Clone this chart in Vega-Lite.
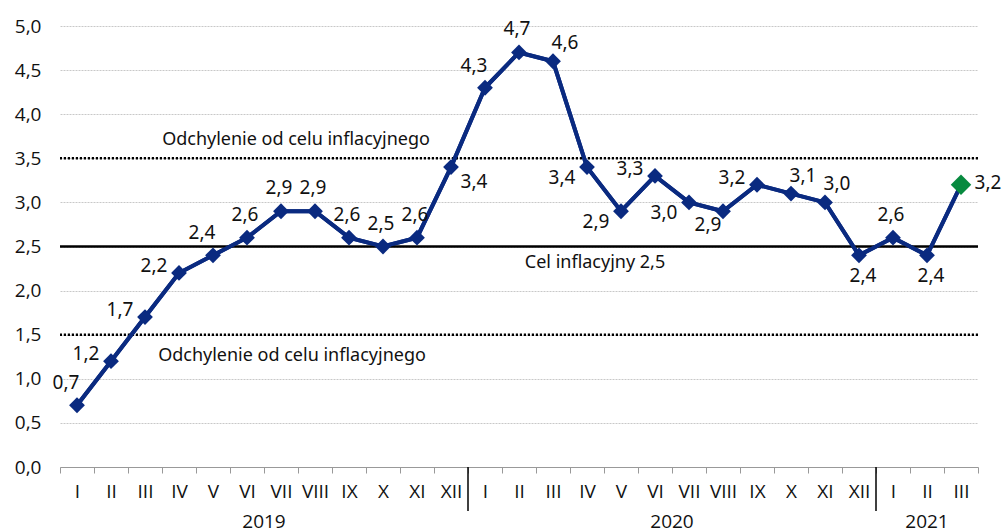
{
  "$schema": "https://vega.github.io/schema/vega-lite/v6.json",
  "width": 918,
  "height": 441,
  "autosize": {"type": "none"},
  "padding": {"left": 60, "top": 26, "right": 27, "bottom": 64},
  "background": "white",
  "config": {
    "view": {"stroke": null},
    "font": "Open Sans",
    "locale": {"number": {"decimal": ",", "thousands": "\u00a0", "grouping": [3], "currency": ["", ""]}}
  },
  "data": {
    "values": [
      {"cat": "2019-I", "month": "I", "year": "2019", "value": 0.7, "pos": "NW"},
      {"cat": "2019-II", "month": "II", "year": "2019", "value": 1.2, "pos": "W"},
      {"cat": "2019-III", "month": "III", "year": "2019", "value": 1.7, "pos": "W"},
      {"cat": "2019-IV", "month": "IV", "year": "2019", "value": 2.2, "pos": "W"},
      {"cat": "2019-V", "month": "V", "year": "2019", "value": 2.4, "pos": "NW"},
      {"cat": "2019-VI", "month": "VI", "year": "2019", "value": 2.6, "pos": "N"},
      {"cat": "2019-VII", "month": "VII", "year": "2019", "value": 2.9, "pos": "N"},
      {"cat": "2019-VIII", "month": "VIII", "year": "2019", "value": 2.9, "pos": "N"},
      {"cat": "2019-IX", "month": "IX", "year": "2019", "value": 2.6, "pos": "N"},
      {"cat": "2019-X", "month": "X", "year": "2019", "value": 2.5, "pos": "N"},
      {"cat": "2019-XI", "month": "XI", "year": "2019", "value": 2.6, "pos": "N"},
      {"cat": "2019-XII", "month": "XII", "year": "2019", "value": 3.4, "pos": "SE"},
      {"cat": "2020-I", "month": "I", "year": "2020", "value": 4.3, "pos": "NW"},
      {"cat": "2020-II", "month": "II", "year": "2020", "value": 4.7, "pos": "N"},
      {"cat": "2020-III", "month": "III", "year": "2020", "value": 4.6, "pos": "NE"},
      {"cat": "2020-IV", "month": "IV", "year": "2020", "value": 3.4, "pos": "SW"},
      {"cat": "2020-V", "month": "V", "year": "2020", "value": 2.9, "pos": "SW"},
      {"cat": "2020-VI", "month": "VI", "year": "2020", "value": 3.3, "pos": "W"},
      {"cat": "2020-VII", "month": "VII", "year": "2020", "value": 3.0, "pos": "SW"},
      {"cat": "2020-VIII", "month": "VIII", "year": "2020", "value": 2.9, "pos": "SSW"},
      {"cat": "2020-IX", "month": "IX", "year": "2020", "value": 3.2, "pos": "W"},
      {"cat": "2020-X", "month": "X", "year": "2020", "value": 3.1, "pos": "NE"},
      {"cat": "2020-XI", "month": "XI", "year": "2020", "value": 3.0, "pos": "NE"},
      {"cat": "2020-XII", "month": "XII", "year": "2020", "value": 2.4, "pos": "S"},
      {"cat": "2021-I", "month": "I", "year": "2021", "value": 2.6, "pos": "N"},
      {"cat": "2021-II", "month": "II", "year": "2021", "value": 2.4, "pos": "S"},
      {"cat": "2021-III", "month": "III", "year": "2021", "value": 3.2, "pos": "E"}
    ]
  },
  "layer": [
    {
      "mark": {"type": "line", "color": "#0a2a80", "strokeWidth": 4, "strokeJoin": "miter"},
      "encoding": {
        "x": {
          "field": "cat", "type": "ordinal", "sort": null,
          "scale": {"paddingInner": 0, "paddingOuter": 0},
          "axis": {
            "title": null, "labelExpr": "split(datum.value, '-')[1]",
            "tickBand": "extent", "domainColor": "#999999", "tickColor": "#999999",
            "tickSize": 6, "labelPadding": 9, "labelFontSize": 19, "labelColor": "#111111",
            "labelAngle": 0, "grid": false, "labelOverlap": false, "labelFlush": false,
            "labelFont": "Open Sans"
          }
        },
        "y": {
          "field": "value", "type": "quantitative",
          "scale": {"domain": [0, 5], "nice": false, "zero": true},
          "axis": {
            "title": null, "values": [0, 0.5, 1, 1.5, 2, 2.5, 3, 3.5, 4, 4.5, 5],
            "format": ".1f", "domain": false, "ticks": false, "labelPadding": 19,
            "labelFontSize": 19, "labelColor": "#111111", "labelFont": "Open Sans",
            "grid": true, "gridColor": "#c8c8c8", "gridDash": [2, 1], "gridWidth": 1
          }
        }
      }
    },
    {
      "data": {"values": [{"ref": 3.5}, {"ref": 1.5}]},
      "mark": {"type": "rule", "color": "#000000", "strokeWidth": 2.5, "strokeDash": [2.2, 1.8]},
      "encoding": {"y": {"field": "ref", "type": "quantitative"}}
    },
    {
      "data": {"values": [{"ref": 2.5}]},
      "mark": {"type": "rule", "color": "#000000", "strokeWidth": 2.5},
      "encoding": {"y": {"field": "ref", "type": "quantitative"}}
    },
    {
      "mark": {"type": "line", "color": "#0a2a80", "strokeWidth": 4, "strokeJoin": "miter"},
      "encoding": {
        "x": {"field": "cat", "type": "ordinal", "sort": null},
        "y": {"field": "value", "type": "quantitative"}
      }
    },
    {
      "mark": {"type": "point", "shape": "diamond", "filled": true, "opacity": 1},
      "encoding": {
        "x": {"field": "cat", "type": "ordinal", "sort": null},
        "y": {"field": "value", "type": "quantitative"},
        "color": {"condition": {"test": "datum.cat == '2021-III'", "value": "#078a3f"}, "value": "#0a2a80"},
        "size": {"condition": {"test": "datum.cat == '2021-III'", "value": 420}, "value": 250}
      }
    },
    {
      "transform": [{"filter": "datum.pos == 'N'"}],
      "mark": {"type": "text", "font": "Noto Sans", "fontSize": 19, "color": "#111111", "dx": -2, "dy": -23, "baseline": "middle"},
      "encoding": {"x": {"field": "cat", "type": "ordinal", "sort": null}, "y": {"field": "value", "type": "quantitative"}, "text": {"field": "value", "type": "quantitative", "format": ".1f"}}
    },
    {
      "transform": [{"filter": "datum.pos == 'NW'"}],
      "mark": {"type": "text", "font": "Noto Sans", "fontSize": 19, "color": "#111111", "dx": -11, "dy": -22, "baseline": "middle"},
      "encoding": {"x": {"field": "cat", "type": "ordinal", "sort": null}, "y": {"field": "value", "type": "quantitative"}, "text": {"field": "value", "type": "quantitative", "format": ".1f"}}
    },
    {
      "transform": [{"filter": "datum.pos == 'NE'"}],
      "mark": {"type": "text", "font": "Noto Sans", "fontSize": 19, "color": "#111111", "dx": 12, "dy": -18, "baseline": "middle"},
      "encoding": {"x": {"field": "cat", "type": "ordinal", "sort": null}, "y": {"field": "value", "type": "quantitative"}, "text": {"field": "value", "type": "quantitative", "format": ".1f"}}
    },
    {
      "transform": [{"filter": "datum.pos == 'W'"}],
      "mark": {"type": "text", "font": "Noto Sans", "fontSize": 19, "color": "#111111", "dx": -25, "dy": -7, "baseline": "middle"},
      "encoding": {"x": {"field": "cat", "type": "ordinal", "sort": null}, "y": {"field": "value", "type": "quantitative"}, "text": {"field": "value", "type": "quantitative", "format": ".1f"}}
    },
    {
      "transform": [{"filter": "datum.pos == 'SW'"}],
      "mark": {"type": "text", "font": "Noto Sans", "fontSize": 19, "color": "#111111", "dx": -25, "dy": 11, "baseline": "middle"},
      "encoding": {"x": {"field": "cat", "type": "ordinal", "sort": null}, "y": {"field": "value", "type": "quantitative"}, "text": {"field": "value", "type": "quantitative", "format": ".1f"}}
    },
    {
      "transform": [{"filter": "datum.pos == 'SSW'"}],
      "mark": {"type": "text", "font": "Noto Sans", "fontSize": 19, "color": "#111111", "dx": -15, "dy": 14, "baseline": "middle"},
      "encoding": {"x": {"field": "cat", "type": "ordinal", "sort": null}, "y": {"field": "value", "type": "quantitative"}, "text": {"field": "value", "type": "quantitative", "format": ".1f"}}
    },
    {
      "transform": [{"filter": "datum.pos == 'SE'"}],
      "mark": {"type": "text", "font": "Noto Sans", "fontSize": 19, "color": "#111111", "dx": 23, "dy": 15, "baseline": "middle"},
      "encoding": {"x": {"field": "cat", "type": "ordinal", "sort": null}, "y": {"field": "value", "type": "quantitative"}, "text": {"field": "value", "type": "quantitative", "format": ".1f"}}
    },
    {
      "transform": [{"filter": "datum.pos == 'S'"}],
      "mark": {"type": "text", "font": "Noto Sans", "fontSize": 19, "color": "#111111", "dx": 4, "dy": 21, "baseline": "middle"},
      "encoding": {"x": {"field": "cat", "type": "ordinal", "sort": null}, "y": {"field": "value", "type": "quantitative"}, "text": {"field": "value", "type": "quantitative", "format": ".1f"}}
    },
    {
      "transform": [{"filter": "datum.pos == 'E'"}],
      "mark": {"type": "text", "font": "Noto Sans", "fontSize": 19, "color": "#111111", "dx": 27, "dy": -2, "baseline": "middle"},
      "encoding": {"x": {"field": "cat", "type": "ordinal", "sort": null}, "y": {"field": "value", "type": "quantitative"}, "text": {"field": "value", "type": "quantitative", "format": ".1f"}}
    },
    {
      "transform": [{"filter": "datum.cat == '2019-VIII'"}],
      "mark": {"type": "text", "font": "Noto Sans", "fontSize": 18, "color": "#111111", "dx": -19, "baseline": "middle"},
      "encoding": {"x": {"field": "cat", "type": "ordinal", "sort": null}, "y": {"datum": 3.71}, "text": {"value": "Odchylenie od celu inflacyjnego"}}
    },
    {
      "transform": [{"filter": "datum.cat == '2019-VIII'"}],
      "mark": {"type": "text", "font": "Noto Sans", "fontSize": 18, "color": "#111111", "dx": -23, "baseline": "middle"},
      "encoding": {"x": {"field": "cat", "type": "ordinal", "sort": null}, "y": {"datum": 1.26}, "text": {"value": "Odchylenie od celu inflacyjnego"}}
    },
    {
      "transform": [{"filter": "datum.cat == '2020-IV'"}],
      "mark": {"type": "text", "font": "Noto Sans", "fontSize": 18, "color": "#111111", "dx": 8, "baseline": "middle"},
      "encoding": {"x": {"field": "cat", "type": "ordinal", "sort": null}, "y": {"datum": 2.31}, "text": {"value": "Cel inflacyjny 2,5"}}
    },
    {
      "transform": [{"filter": "datum.cat == '2019-VI' || datum.cat == '2020-VI'"}],
      "mark": {"type": "text", "font": "Open Sans", "fontSize": 19, "color": "#111111", "dx": 17, "dy": 55, "baseline": "middle"},
      "encoding": {"x": {"field": "cat", "type": "ordinal", "sort": null}, "y": {"datum": 0}, "text": {"field": "year"}}
    },
    {
      "transform": [{"filter": "datum.cat == '2021-II'"}],
      "mark": {"type": "text", "font": "Open Sans", "fontSize": 19, "color": "#111111", "dy": 55, "baseline": "middle"},
      "encoding": {"x": {"field": "cat", "type": "ordinal", "sort": null}, "y": {"datum": 0}, "text": {"field": "year"}}
    },
    {
      "transform": [{"filter": "datum.cat == '2020-I' || datum.cat == '2021-I'"}],
      "mark": {"type": "rule", "color": "#000000", "strokeWidth": 1.5},
      "encoding": {"x": {"field": "cat", "type": "ordinal", "sort": null, "bandPosition": 0}, "y": {"datum": 0}, "y2": {"datum": -0.5}}
    }
  ]
}
